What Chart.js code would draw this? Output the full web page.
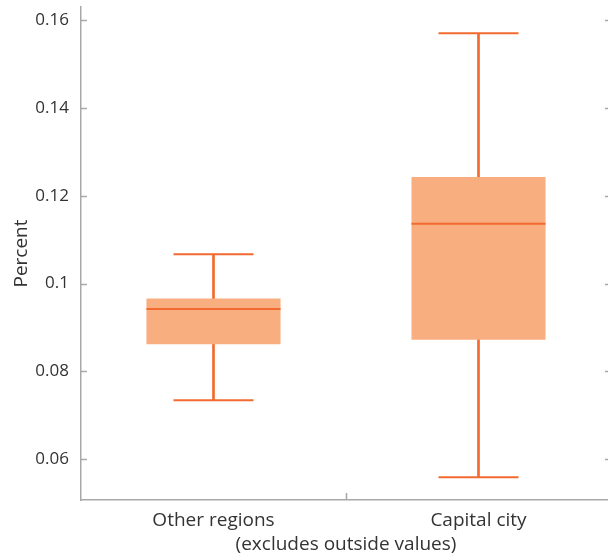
<!DOCTYPE html>
<html>
<head>
<meta charset="utf-8">
<script src="https://cdn.jsdelivr.net/npm/chart.js@4"></script>
<style>
  html, body { margin: 0; padding: 0; background: #fff; overflow: hidden; }
  #wrap { width: 611px; height: 556px; }
</style>
</head>
<body>
<div id="wrap"><canvas id="myChart"></canvas></div>
<script>
// data
const categories = ['Other regions', 'Capital city'];
const whiskerLow = [0.0734, 0.0559];
const boxQ1 = [0.0862, 0.0872];
const medians = [0.0942, 0.1136];
const boxQ3 = [0.0966, 0.1243];
const whiskerHigh = [0.1067, 0.1570];
const yTicks = [0.06, 0.08, 0.1, 0.12, 0.14, 0.16];
const yTickLabels = ['0.06', '0.08', '0.1', '0.12', '0.14', '0.16'];

const lineColor = '#F26A30';
const fillColor = '#F9AE80';
const axisColor = '#a8a8a8';
const textColor = '#333333';
const fontFamily = '"Open Sans", sans-serif';

// small tick marks pointing into the plot, like the original
const innerTicks = {
  id: 'innerTicks',
  afterDraw(chart) {
    const c = chart.ctx;
    const area = chart.chartArea;
    const y = chart.scales.y;
    c.save();
    c.strokeStyle = axisColor;
    c.lineWidth = 1.5;
    c.beginPath();
    y.ticks.forEach(function (t) {
      const py = Math.round(y.getPixelForValue(t.value)) + 0.5;
      c.moveTo(area.left, py);
      c.lineTo(area.left + 6, py);
      c.moveTo(area.right - 6, py);
      c.lineTo(area.right, py);
    });
    const mid = Math.round((area.left + area.right) / 2) + 0.5;
    c.moveTo(mid, area.bottom);
    c.lineTo(mid, area.bottom - 7);
    c.stroke();
    c.restore();
  }
};

const ctx = document.getElementById('myChart');

new Chart(ctx, {
  type: 'bar',
  data: {
    labels: categories,
    datasets: [
      {
        // median line, on top
        type: 'line',
        data: medians,
        showLine: false,
        pointStyle: 'line',
        pointRadius: 67,
        pointHoverRadius: 67,
        borderColor: lineColor,
        borderWidth: 2,
        clip: false,
        order: 0
      },
      {
        type: 'line',
        data: whiskerHigh,
        showLine: false,
        pointStyle: 'line',
        pointRadius: 40,
        pointHoverRadius: 40,
        borderColor: lineColor,
        borderWidth: 2,
        clip: false,
        order: 1
      },
      {
        type: 'line',
        data: whiskerLow,
        showLine: false,
        pointStyle: 'line',
        pointRadius: 40,
        pointHoverRadius: 40,
        borderColor: lineColor,
        borderWidth: 2,
        clip: false,
        order: 1
      },
      {
        // the box itself
        data: categories.map((_, i) => [boxQ1[i], boxQ3[i]]),
        backgroundColor: fillColor,
        borderWidth: 0,
        grouped: false,
        barPercentage: 0.506,
        categoryPercentage: 1,
        order: 2
      },
      {
        // whisker stem, drawn first so the box covers it
        data: categories.map((_, i) => [whiskerLow[i], whiskerHigh[i]]),
        backgroundColor: lineColor,
        borderWidth: 0,
        grouped: false,
        barThickness: 2,
        order: 3
      }
    ]
  },
  options: {
    responsive: true,
    maintainAspectRatio: false,
    animation: false,
    layout: { autoPadding: false, padding: { top: 7, right: 0, left: 0, bottom: 0 } },
    plugins: {
      legend: { display: false },
      tooltip: { enabled: false }
    },
    scales: {
      x: {
        offset: true,
        grid: { display: false },
        border: { color: axisColor, width: 1.5 },
        ticks: { color: textColor, font: { family: fontFamily, size: 19 }, padding: 1 },
        title: {
          display: true,
          text: '(excludes outside values)',
          color: textColor,
          font: { family: fontFamily, size: 19 },
          padding: { top: 0, bottom: 0 }
        },
        afterFit(scale) {
          scale.height = 56;
          scale.paddingLeft = 0;
          scale.paddingRight = 0;
        }
      },
      y: {
        min: 0.0507,
        max: 0.163,
        grid: { display: false },
        border: { color: axisColor, width: 1.5 },
        afterBuildTicks(scale) {
          scale.ticks = yTicks.map(v => ({ value: v }));
        },
        ticks: {
          color: textColor,
          font: { family: fontFamily, size: 17 },
          padding: 4,
          callback(value) {
            const i = yTicks.indexOf(value);
            return i >= 0 ? yTickLabels[i] : '';
          }
        },
        title: {
          display: true,
          text: 'Percent',
          color: textColor,
          font: { family: fontFamily, size: 19 },
          padding: { top: 10, bottom: 4 }
        },
        afterFit(scale) {
          scale.width = 81;
          scale.paddingTop = 0;
          scale.paddingBottom = 0;
        }
      }
    }
  },
  plugins: [innerTicks]
});
</script>
</body>
</html>
